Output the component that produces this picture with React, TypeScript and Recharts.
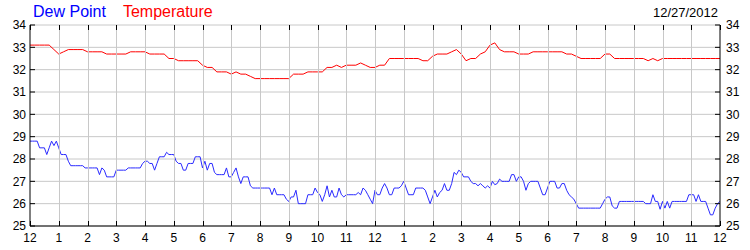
import React from "react";
import { LineChart, Line, XAxis, YAxis, CartesianGrid } from "recharts";

// 温度: 10分ごと (0:00〜24:00)
const tempValues: number[] = [
  33.1, 33.1, 33.1, 33.1, 33.1, 32.9, 32.7, 32.8, 32.9, 32.9, 32.9, 32.9,
  32.8, 32.8, 32.8, 32.8, 32.7, 32.7, 32.7, 32.7, 32.7, 32.8, 32.8, 32.8,
  32.8, 32.7, 32.7, 32.7, 32.7, 32.5, 32.5, 32.4, 32.4, 32.4, 32.4, 32.4,
  32.2, 32.1, 32.1, 31.9, 31.9, 31.9, 31.8, 31.9, 31.8, 31.8, 31.7, 31.6,
  31.6, 31.6, 31.6, 31.6, 31.6, 31.6, 31.6, 31.8, 31.8, 31.8, 31.9, 31.9,
  31.9, 31.9, 32.1, 32.1, 32.2, 32.1, 32.2, 32.2, 32.2, 32.3, 32.2, 32.1,
  32.1, 32.2, 32.2, 32.5, 32.5, 32.5, 32.5, 32.5, 32.5, 32.5, 32.4, 32.4,
  32.6, 32.7, 32.7, 32.7, 32.8, 32.9, 32.7, 32.4, 32.5, 32.5, 32.7, 32.8,
  33.1, 33.2, 32.9, 32.8, 32.8, 32.8, 32.7, 32.7, 32.7, 32.8, 32.8, 32.8,
  32.8, 32.8, 32.8, 32.8, 32.7, 32.7, 32.6, 32.5, 32.5, 32.5, 32.5, 32.5,
  32.7, 32.7, 32.5, 32.5, 32.5, 32.5, 32.5, 32.5, 32.5, 32.4, 32.5, 32.4,
  32.5, 32.5, 32.5, 32.5, 32.5, 32.5, 32.5, 32.5, 32.5, 32.5, 32.5, 32.5,
  32.5,
];

// 露点: 5分ごと (0:00〜24:00)
const dewValues: number[] = [
  28.8, 28.8, 28.8, 28.8, 28.5, 28.5, 28.5, 28.2, 28.5, 28.8, 28.6, 28.8,
  28.5, 28.2, 28.2, 28.2, 27.9, 27.7, 27.7, 27.7, 27.7, 27.7, 27.7, 27.6,
  27.6, 27.6, 27.6, 27.6, 27.6, 27.3, 27.6, 27.5, 27.2, 27.2, 27.2, 27.2,
  27.5, 27.5, 27.5, 27.5, 27.5, 27.6, 27.6, 27.6, 27.6, 27.6, 27.6, 27.8,
  27.9, 27.9, 27.8, 27.8, 27.5, 27.8, 28.1, 28.1, 28.1, 28.3, 28.2, 28.2,
  28.2, 27.9, 27.8, 27.8, 27.5, 27.5, 27.8, 27.8, 27.8, 28.1, 28.1, 28.1,
  27.6, 27.9, 27.5, 27.8, 27.8, 27.4, 27.3, 27.3, 27.3, 27.3, 27.6, 27.2,
  27.2, 27.4, 27.6, 27.2, 26.9, 27.2, 27.2, 27.2, 26.8, 26.7, 26.7, 26.7,
  26.7, 26.7, 26.7, 26.7, 26.7, 26.4, 26.7, 26.4, 26.4, 26.4, 26.4, 26.2,
  26.1, 26.3, 26.3, 26.6, 26.0, 26.0, 26.0, 26.0, 26.4, 26.4, 26.4, 26.7,
  26.5, 26.4, 26.1, 26.4, 26.8, 26.3, 26.6, 26.3, 26.3, 26.7, 26.4, 26.3,
  26.4, 26.4, 26.4, 26.4, 26.4, 26.5, 26.4, 26.7, 26.6, 26.4, 26.2, 26.0,
  26.6, 26.4, 26.4, 26.7, 26.9, 26.7, 26.4, 26.4, 26.7, 26.7, 26.7, 26.8,
  27.0, 26.7, 26.4, 26.4, 26.4, 26.7, 26.7, 26.7, 26.7, 26.6, 26.3, 26.0,
  26.3, 26.6, 26.3, 26.5, 26.6, 26.9, 26.6, 26.6, 26.9, 27.4, 27.3, 27.5,
  27.4, 27.2, 27.2, 27.2, 27.0, 26.9, 26.9, 26.8, 26.9, 26.8, 26.7, 26.8,
  26.7, 27.0, 26.85, 26.9, 27.1, 27.0, 27.0, 27.0, 27.0, 27.3, 27.3, 27.0,
  27.2, 27.2, 27.0, 26.6, 26.9, 27.0, 27.0, 27.0, 27.0, 26.7, 26.4, 26.4,
  26.7, 27.0, 27.0, 27.0, 26.7, 26.7, 26.9, 26.9, 26.6, 26.4, 26.3, 26.2,
  26.0, 25.8, 25.8, 25.8, 25.8, 25.8, 25.8, 25.8, 25.8, 25.8, 25.8, 26.0,
  26.2, 26.3, 26.3, 25.9, 25.8, 25.8, 26.1, 26.1, 26.1, 26.1, 26.1, 26.1,
  26.1, 26.1, 26.1, 26.1, 26.1, 26.0, 26.0, 26.0, 26.4, 26.1, 26.1, 25.75,
  26.1, 25.8, 26.1, 25.8, 26.1, 26.1, 26.1, 26.1, 26.1, 26.1, 26.1, 26.4,
  26.4, 26.4, 26.1, 26.4, 26.1, 26.1, 26.1, 25.8, 25.5, 25.5, 25.8, 26.0,
  26.1,
];

const hourTicks: number[] = [
  0, 60, 120, 180, 240, 300, 360, 420, 480, 540, 600, 660, 720,
  780, 840, 900, 960, 1020, 1080, 1140, 1200, 1260, 1320, 1380, 1440,
];
const yTicks: number[] = [25, 26, 27, 28, 29, 30, 31, 32, 33, 34];

const dateLabel = "12/27/2012";

const tempData = tempValues.map((v, i) => ({ minute: i * 10, temp: v }));
const dewData = dewValues.map((v, i) => ({ minute: i * 5, dew: v }));

const hourLabel = (m: number) => String((m / 60) % 12 || 12);

const FONT = "'Liberation Sans', Arial, sans-serif";
const tickStyle = { fontSize: 12, fill: "#000", fontFamily: FONT };

// プロット領域の上端と下端（margin.top と XAxis の高さから）
const PLOT_TOP = 25;
const PLOT_BOTTOM = 226;

// 下側の目盛り: 縦グリッド線・内向きの目盛り・ラベルを一緒に描く
const HourTick = (props: any) => {
  const { x, y, payload } = props;
  const cx = Math.round(x) + 0.5;
  const inner = payload.value !== 0 && payload.value !== 1440;
  return (
    <g>
      {inner && <line x1={cx} x2={cx} y1={PLOT_TOP} y2={PLOT_BOTTOM} stroke="#c8c8c8" />}
      <line x1={cx} x2={cx} y1={PLOT_BOTTOM - 5} y2={PLOT_BOTTOM} stroke="#000" />
      <line x1={cx} x2={cx} y1={PLOT_TOP} y2={PLOT_TOP + 5} stroke="#000" />
      <text x={x} y={y} dy="0.71em" textAnchor="middle" {...tickStyle}>
        {hourLabel(payload.value)}
      </text>
    </g>
  );
};

export default function App() {
  return (
    <div style={{ position: "absolute", left: 0, top: 0, width: 750, height: 250, background: "#fff", fontFamily: FONT }}>
      {/* 凡例と日付 */}
      <div style={{ position: "absolute", left: 33, top: 3, fontSize: 16, lineHeight: "18px", whiteSpace: "nowrap" }}>
        <span style={{ color: "#0000ff" }}>Dew Point</span>
        <span style={{ color: "#ff0000", marginLeft: 17 }}>Temperature</span>
      </div>
      <div style={{ position: "absolute", right: 32, top: 5, fontSize: 13, lineHeight: "15px", color: "#000" }}>
        {dateLabel}
      </div>
      <LineChart width={750} height={250} margin={{ top: 25, right: 0, bottom: 0, left: 0 }}>
        <CartesianGrid stroke="#c8c8c8" vertical={false} xAxisId="bottom" yAxisId="left" />
        <XAxis
          xAxisId="bottom"
          type="number"
          dataKey="minute"
          domain={[0, 1440]}
          ticks={hourTicks}
          interval={0}
          height={24}
          tickLine={false}
          tickSize={0}
          tickMargin={7}
          stroke="#000"
          tick={<HourTick />}
          allowDataOverflow
        />
        <XAxis
          xAxisId="top"
          orientation="top"
          type="number"
          dataKey="minute"
          domain={[0, 1440]}
          ticks={hourTicks}
          tick={false}
          tickLine={false}
          height={0}
          stroke="#000"
          allowDataOverflow
        />
        <YAxis
          yAxisId="left"
          domain={[25, 34]}
          ticks={yTicks}
          interval={0}
          width={30}
          tickSize={-5}
          tickMargin={9}
          stroke="#000"
          tick={tickStyle}
          allowDataOverflow
        />
        <YAxis
          yAxisId="right"
          orientation="right"
          domain={[25, 34]}
          ticks={yTicks}
          interval={0}
          width={30}
          tickSize={-5}
          tickMargin={11}
          stroke="#000"
          tick={tickStyle}
          allowDataOverflow
        />
        <Line
          xAxisId="bottom"
          yAxisId="left"
          data={dewData}
          dataKey="dew"
          type="linear"
          stroke="#2a2aff"
          strokeWidth={1}
          dot={false}
          isAnimationActive={false}
        />
        <Line
          xAxisId="bottom"
          yAxisId="left"
          data={tempData}
          dataKey="temp"
          type="linear"
          stroke="#ff0000"
          strokeWidth={1}
          dot={false}
          isAnimationActive={false}
        />
      </LineChart>
    </div>
  );
}
